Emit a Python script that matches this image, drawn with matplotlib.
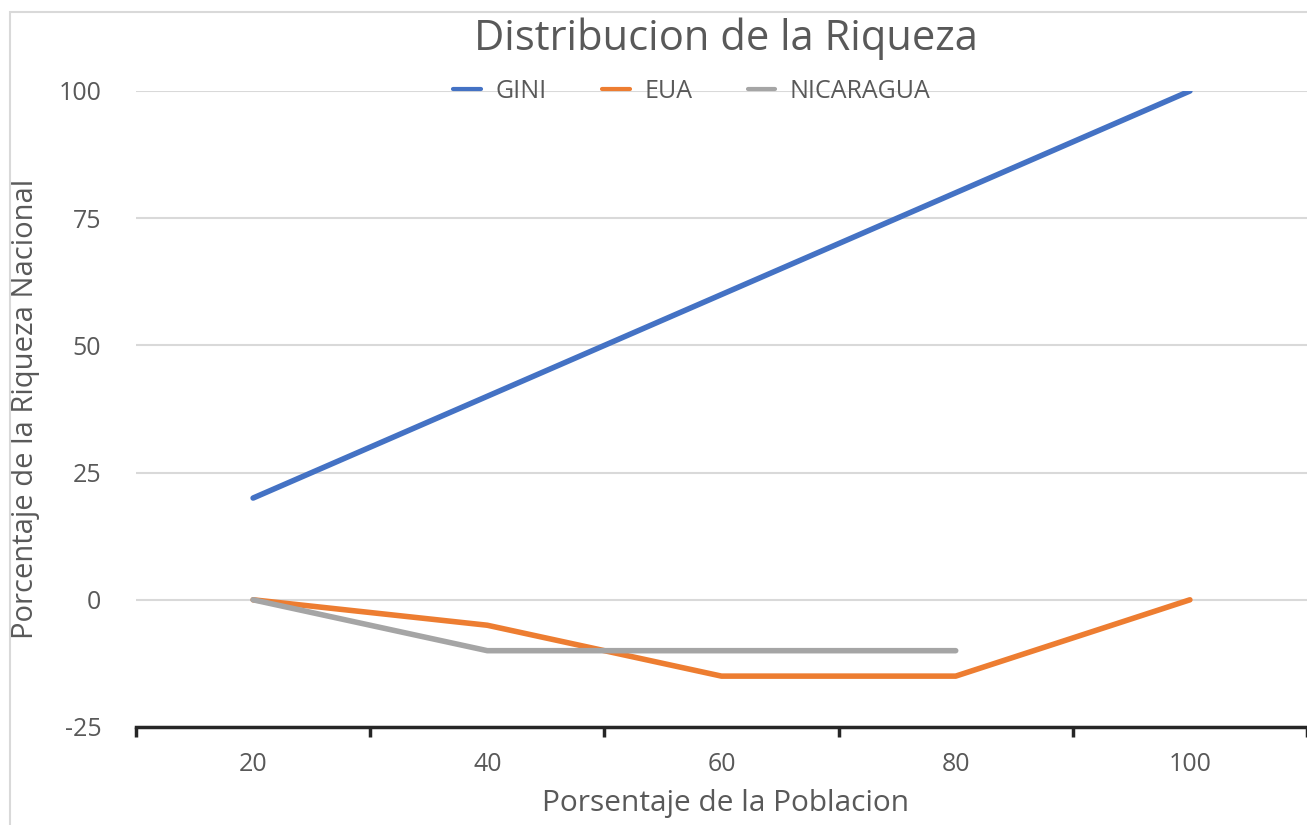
import matplotlib.pyplot as plt
from matplotlib.patches import Rectangle

plt.rcParams['font.family'] = ['Open Sans', 'DejaVu Sans']
plt.rcParams['axes.unicode_minus'] = False

# Data
categories = ['20', '40', '60', '80', '100']
gini = [20, 40, 60, 80, 100]
eua = [0, -5, -15, -15, 0]
nicaragua = [0, -10, -10, -10]

fig = plt.figure(figsize=(13.07, 8.25), dpi=100)
ax = fig.add_axes([136 / 1307, (825 - 727) / 825, 1 - 136 / 1307, (727 - 91) / 825])

# faint chart frame
fig.patches.append(Rectangle((10 / 1307, -0.1), 1.2, (825 - 12) / 825 + 0.1,
                             transform=fig.transFigure, fill=False,
                             edgecolor='#d9d9d9', linewidth=1.5))

xs = list(range(1, len(categories) + 1))
ax.plot(xs, gini, color='#4472C4', linewidth=4, label='GINI', solid_capstyle='round')
ax.plot(xs, eua, color='#ED7D31', linewidth=4, label='EUA', solid_capstyle='round')
ax.plot(xs[:len(nicaragua)], nicaragua, color='#A5A5A5', linewidth=4,
        label='NICARAGUA', solid_capstyle='round')

ax.set_xlim(0.5, 0.5 + (1307 - 136) / 236.6)
ax.set_ylim(-25, 100)
ax.set_yticks([-25, 0, 25, 50, 75, 100])
ax.set_xticks(xs)
ax.set_xticklabels(categories)
ax.set_xticks([x + 0.5 for x in range(0, 6)], minor=True)

ax.grid(axis='y', color='#d9d9d9', linewidth=1.5)
ax.set_axisbelow(True)
for s in ['top', 'right', 'left']:
    ax.spines[s].set_visible(False)
ax.spines['bottom'].set_color('#262626')
ax.spines['bottom'].set_linewidth(2.5)

ax.tick_params(axis='x', which='major', length=0, labelsize=18, labelcolor='#595959', pad=18)
ax.tick_params(axis='x', which='minor', length=7, width=2.5, color='#262626', direction='out')
ax.tick_params(axis='y', length=0, labelsize=18, labelcolor='#595959', pad=25)

ax.set_xlabel('Porsentaje de la Poblacion', fontsize=21.5, color='#595959')
ax.set_ylabel('Porcentaje de la Riqueza Nacional', fontsize=21, color='#595959')
ax.yaxis.set_label_coords((40 - 136) / 1171, 0.5)
ax.xaxis.set_label_coords((726 - 136) / 1171, -(789 - 727) / 636)

fig.text(726 / 1307, 1 - 39 / 825, 'Distribucion de la Riqueza', fontsize=30,
         color='#595959', ha='center', va='center')

leg = ax.legend(loc='center', bbox_to_anchor=((692 - 136) / 1171, 1.0), ncol=3, frameon=False,
                fontsize=18, labelcolor='#595959', handlelength=1.1, columnspacing=2.2,
                handletextpad=0.6)
for line in leg.get_lines():
    line.set_linewidth(3)

fig.savefig('out.png', dpi=100)
